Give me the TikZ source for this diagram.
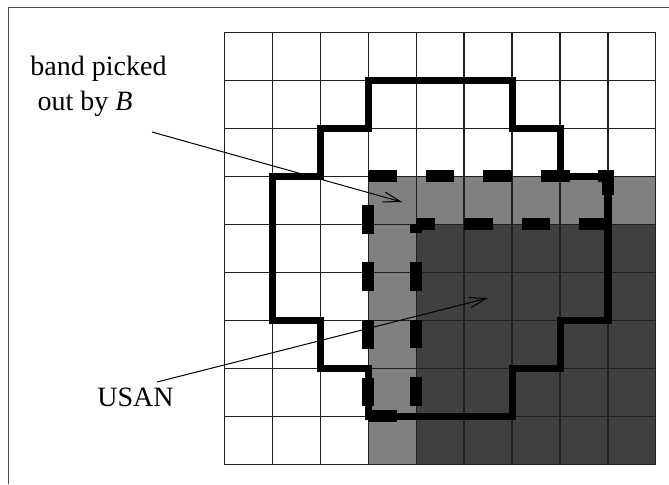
\documentclass[tikz,border=0pt]{standalone}
\usepackage{fontspec}
\setmainfont{Liberation Serif}
\usetikzlibrary{arrows.meta}

\begin{document}
\begin{tikzpicture}[>={Straight Barb[length=10pt,width=6pt]},
  gridline/.style={draw=black!88, line width=0.6pt},
  mask/.style={line width=0.146cm, line join=miter},
  bandedge/.style={line width=0.23cm, dash pattern=on 0.6cm off 0.6cm},
  lbl/.style={font=\fontsize{16.6}{20.7}\selectfont, inner sep=0pt}]
  \useasboundingbox (-4.667,-9.417) rectangle (9.271,0.667);
  % frame
  \draw[black!70, line width=0.6pt] (-4.5,-9.417) -- (-4.5,0.521) -- (9.271,0.521);
  % band and USAN shading
  \fill[black!50] (3,-3) rectangle (9,-9);
  \fill[black!75] (4,-4) rectangle (9,-9);
  \draw[gridline] (0,0) grid (9,-9);
  % circular mask
  \draw[mask] (3,-1) -- (6,-1) -- (6,-2) -- (7,-2) -- (7,-3) -- (8,-3) -- (8,-6)
    -- (7,-6) -- (7,-7) -- (6,-7) -- (6,-8) -- (3,-8) -- (3,-7) -- (2,-7)
    -- (2,-6) -- (1,-6) -- (1,-3) -- (2,-3) -- (2,-2) -- (3,-2) -- cycle;
  % band inside the mask
  \draw[bandedge] (3,-3) -- (8,-3) -- (8,-4) -- (4,-4);
  \draw[bandedge, dash phase=0.41cm] (4,-4) -- (4,-8);
  \draw[bandedge, dash phase=0.6cm] (3,-3) -- (3,-8);
  \draw[bandedge] (3,-8) -- (4,-8);
  % labels
  \node[lbl, anchor=base west, align=left] (bandlbl) at (-4.04,-1.625)
    {band picked\\\hspace*{0.15cm}out by \textit{B}};
  \node[lbl, anchor=base west] (usanlbl) at (-2.646,-7.792) {USAN};
  \coordinate (bandfrom) at (-1.5,-2.083);
  \coordinate (bandtip) at (3.708,-3.542);
  \coordinate (usanfrom) at (-1.396,-7.292);
  \coordinate (usantip) at (5.5,-5.542);
  \draw[->, line width=0.6pt] (bandfrom) -- (bandtip);
  \draw[->, line width=0.6pt] (usanfrom) -- (usantip);
\end{tikzpicture}
\end{document}
